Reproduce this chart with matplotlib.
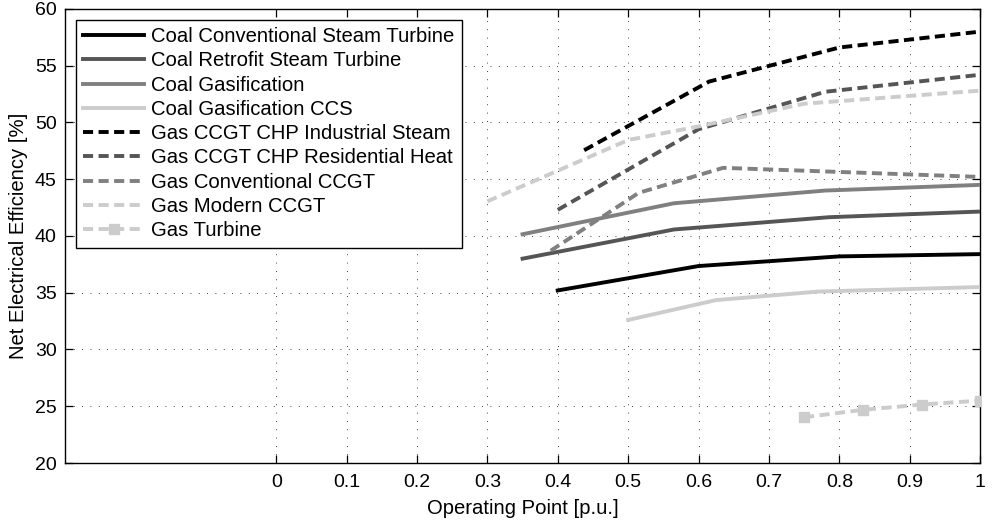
import matplotlib
matplotlib.use("Agg")
import matplotlib.pyplot as plt

plt.rcParams['font.family'] = ['Liberation Sans', 'DejaVu Sans']

# ---- data ----
coal_conv_x = [0.40, 0.60, 0.80, 1.00]
coal_conv_y = [35.2, 37.35, 38.2, 38.4]

coal_retro_x = [0.35, 0.565, 0.785, 1.00]
coal_retro_y = [38.0, 40.57, 41.65, 42.15]

coal_gas_x = [0.35, 0.565, 0.78, 1.00]
coal_gas_y = [40.15, 42.88, 44.0, 44.5]

coal_ccs_x = [0.50, 0.625, 0.77, 1.00]
coal_ccs_y = [32.6, 34.35, 35.1, 35.5]

gas_ind_x = [0.4375, 0.615, 0.80, 1.00]
gas_ind_y = [47.55, 53.6, 56.6, 58.0]

gas_res_x = [0.40, 0.60, 0.78, 1.00]
gas_res_y = [42.3, 49.4, 52.7, 54.2]

gas_conv_x = [0.39, 0.515, 0.635, 1.00]
gas_conv_y = [38.7, 43.8, 46.0, 45.2]

gas_mod_x = [0.30, 0.50, 0.60, 0.75, 1.00]
gas_mod_y = [43.05, 48.45, 49.65, 51.65, 52.8]

gas_turb_x = [0.75, 0.833, 0.917, 1.00]
gas_turb_y = [24.03, 24.68, 25.15, 25.5]

labels = ["Coal Conventional Steam Turbine", "Coal Retrofit Steam Turbine",
          "Coal Gasification", "Coal Gasification CCS",
          "Gas CCGT CHP Industrial Steam", "Gas CCGT CHP Residential Heat",
          "Gas Conventional CCGT", "Gas Modern CCGT", "Gas Turbine"]

x_ticks = [0, 0.1, 0.2, 0.3, 0.4, 0.5, 0.6, 0.7, 0.8, 0.9, 1]
x_ticklabels = ["0", "0.1", "0.2", "0.3", "0.4", "0.5", "0.6", "0.7", "0.8", "0.9", "1"]
y_ticks = [20, 25, 30, 35, 40, 45, 50, 55, 60]

# ---- style ----
c_black = "#000000"
c_dark = "#555555"
c_mid = "#808080"
c_light = "#cccccc"
lw = 2.8
dash = (2.6, 1.4)
fs_tick = 14
fs = 14.6

fig = plt.figure(figsize=(9.93, 5.24), dpi=100)
ax = fig.add_axes([0.0655, 0.1164, 0.9215, 0.8666])

series = [
    (coal_conv_x, coal_conv_y, c_black, '-'),
    (coal_retro_x, coal_retro_y, c_dark, '-'),
    (coal_gas_x, coal_gas_y, c_mid, '-'),
    (coal_ccs_x, coal_ccs_y, c_light, '-'),
    (gas_ind_x, gas_ind_y, c_black, '--'),
    (gas_res_x, gas_res_y, c_dark, '--'),
    (gas_conv_x, gas_conv_y, c_mid, '--'),
    (gas_mod_x, gas_mod_y, c_light, '--'),
]
for (xs, ys, col, ls), lab in zip(series, labels[:8]):
    if ls == '--':
        ax.plot(xs, ys, color=col, lw=lw, dashes=dash, label=lab, zorder=3)
    else:
        ax.plot(xs, ys, color=col, lw=lw, label=lab, zorder=3)
ax.plot(gas_turb_x, gas_turb_y, color=c_light, lw=lw, dashes=dash,
        marker='s', markersize=7, markerfacecolor=c_light,
        markeredgecolor=c_light, label=labels[8], zorder=3)

ax.set_xlim(-0.3, 1.0)
ax.set_ylim(20, 60)
ax.set_xticks(x_ticks)
ax.set_xticklabels(x_ticklabels)
ax.set_yticks(y_ticks)
ax.tick_params(direction='in', top=True, right=True, length=6, width=0.9,
               labelsize=fs_tick, colors='black', pad=8)
ax.tick_params(axis='y', pad=6)
ax.grid(True, color='black', linestyle=(0, (1, 9)), linewidth=0.6)
for s in ax.spines.values():
    s.set_linewidth(1.0)
ax.set_xlabel("Operating Point [p.u.]", fontsize=fs, labelpad=6)
ax.set_ylabel("Net Electrical Efficiency [%]", fontsize=fs, labelpad=5)

leg = ax.legend(loc='upper left', bbox_to_anchor=(0.012, 0.976), fontsize=fs,
                frameon=True, fancybox=False, framealpha=1, edgecolor='black',
                borderaxespad=0, handlelength=3.0, handletextpad=0.35,
                labelspacing=0.26, borderpad=0.36)
leg.get_frame().set_linewidth(1.0)

fig.savefig("out.png", dpi=100)
